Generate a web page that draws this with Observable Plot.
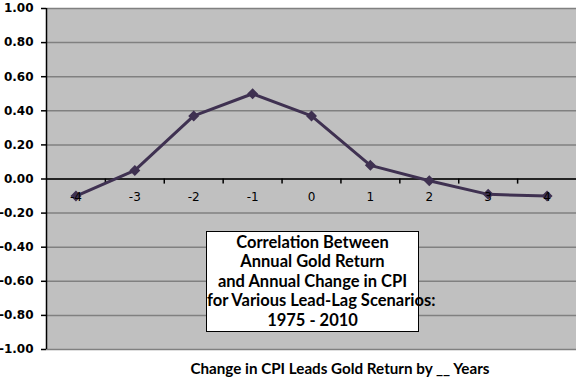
<!DOCTYPE html>
<html>
<head>
<meta charset="utf-8">
<script src="https://cdn.jsdelivr.net/npm/d3@7"></script>
<script src="https://cdn.jsdelivr.net/npm/@observablehq/plot@0.6"></script>
<style>
  html, body { margin: 0; padding: 0; background: #fff; }
  #wrap { position: relative; width: 576px; height: 384px; overflow: hidden; }
  #box {
    position: absolute; left: 206px; top: 231px; width: 211px; height: 99px;
    border: 1px solid #000; background: #fff;
    font-family: Lato, "Open Sans", sans-serif; font-weight: bold; font-size: 16.5px;
    line-height: 19.5px; text-align: center; color: #000;
    display: flex; flex-direction: column; justify-content: center;
    white-space: nowrap;
  }
  #xtitle {
    position: absolute; left: 190px; width: 300px; top: 359px; text-align: center;
    font-family: Lato, "Open Sans", sans-serif; font-weight: bold; font-size: 15.2px; color: #000;
    white-space: nowrap;
  }
</style>
</head>
<body>
<div id="wrap"></div>
<script>
// Data
const leads = [-4, -3, -2, -1, 0, 1, 2, 3, 4];
const correlations = [-0.10, 0.05, 0.37, 0.50, 0.37, 0.08, -0.01, -0.09, -0.10];
const yTicks = [-1, -0.8, -0.6, -0.4, -0.2, 0, 0.2, 0.4, 0.6, 0.8, 1];
const boundaries = [-3.5, -2.5, -1.5, -0.5, 0.5, 1.5, 2.5, 3.5];
const boxLines = ["Correlation Between", "Annual Gold Return", "and Annual Change in CPI", "for Various Lead-Lag Scenarios:", "1975 - 2010"];
const xTitle = "Change in CPI Leads Gold Return by __ Years";

const data = leads.map((l, i) => ({lead: l, r: correlations[i]}));

const chart = Plot.plot({
  width: 576,
  height: 384,
  marginTop: 8,
  marginBottom: 35,
  marginLeft: 46,
  marginRight: 0,
  style: {background: "transparent", overflow: "visible"},
  x: {domain: [-4.5, 4.5], axis: null},
  y: {domain: [-1, 1], axis: null},
  marks: [
    Plot.frame({fill: "#c0c0c0", stroke: null}),
    Plot.gridY(yTicks, {stroke: "#808080", strokeOpacity: 1, strokeWidth: 1.5}),
    Plot.axisY(yTicks, {
      anchor: "left",
      tickFormat: d => d.toFixed(2),
      tickSize: 5, tickPadding: 8, stroke: "#000", strokeWidth: 1.5,
      fontWeight: "bold", fontSize: 12, fontFamily: "Tahoma, 'DejaVu Sans', Verdana, sans-serif",
      fill: "#000", label: null
    }),
    Plot.ruleX([-4.5], {stroke: "#000", strokeWidth: 1.5}),
    Plot.ruleY([0], {stroke: "#000", strokeWidth: 1.5}),
    Plot.ruleX(boundaries, {y1: 0, y2: -0.03, stroke: "#000", strokeWidth: 1.5}),
    Plot.line(data, {x: "lead", y: "r", stroke: "#3f3151", strokeWidth: 3}),
    Plot.dot(data, {x: "lead", y: "r", symbol: "diamond2", r: 4, fill: "#3f3151", stroke: "#3f3151"}),
    Plot.text(leads, {
      x: d => d, y: 0, dy: 18, text: d => String(d),
      fontSize: 12, fontFamily: "Tahoma, 'DejaVu Sans', Verdana, sans-serif", fill: "#000"
    })
  ]
});

const wrap = document.getElementById("wrap");
wrap.appendChild(chart);

const box = document.createElement("div");
box.id = "box";
boxLines.forEach(t => { const s = document.createElement("div"); s.textContent = t; box.appendChild(s); });
wrap.appendChild(box);

const xt = document.createElement("div");
xt.id = "xtitle";
xt.textContent = xTitle;
wrap.appendChild(xt);
</script>
</body>
</html>
